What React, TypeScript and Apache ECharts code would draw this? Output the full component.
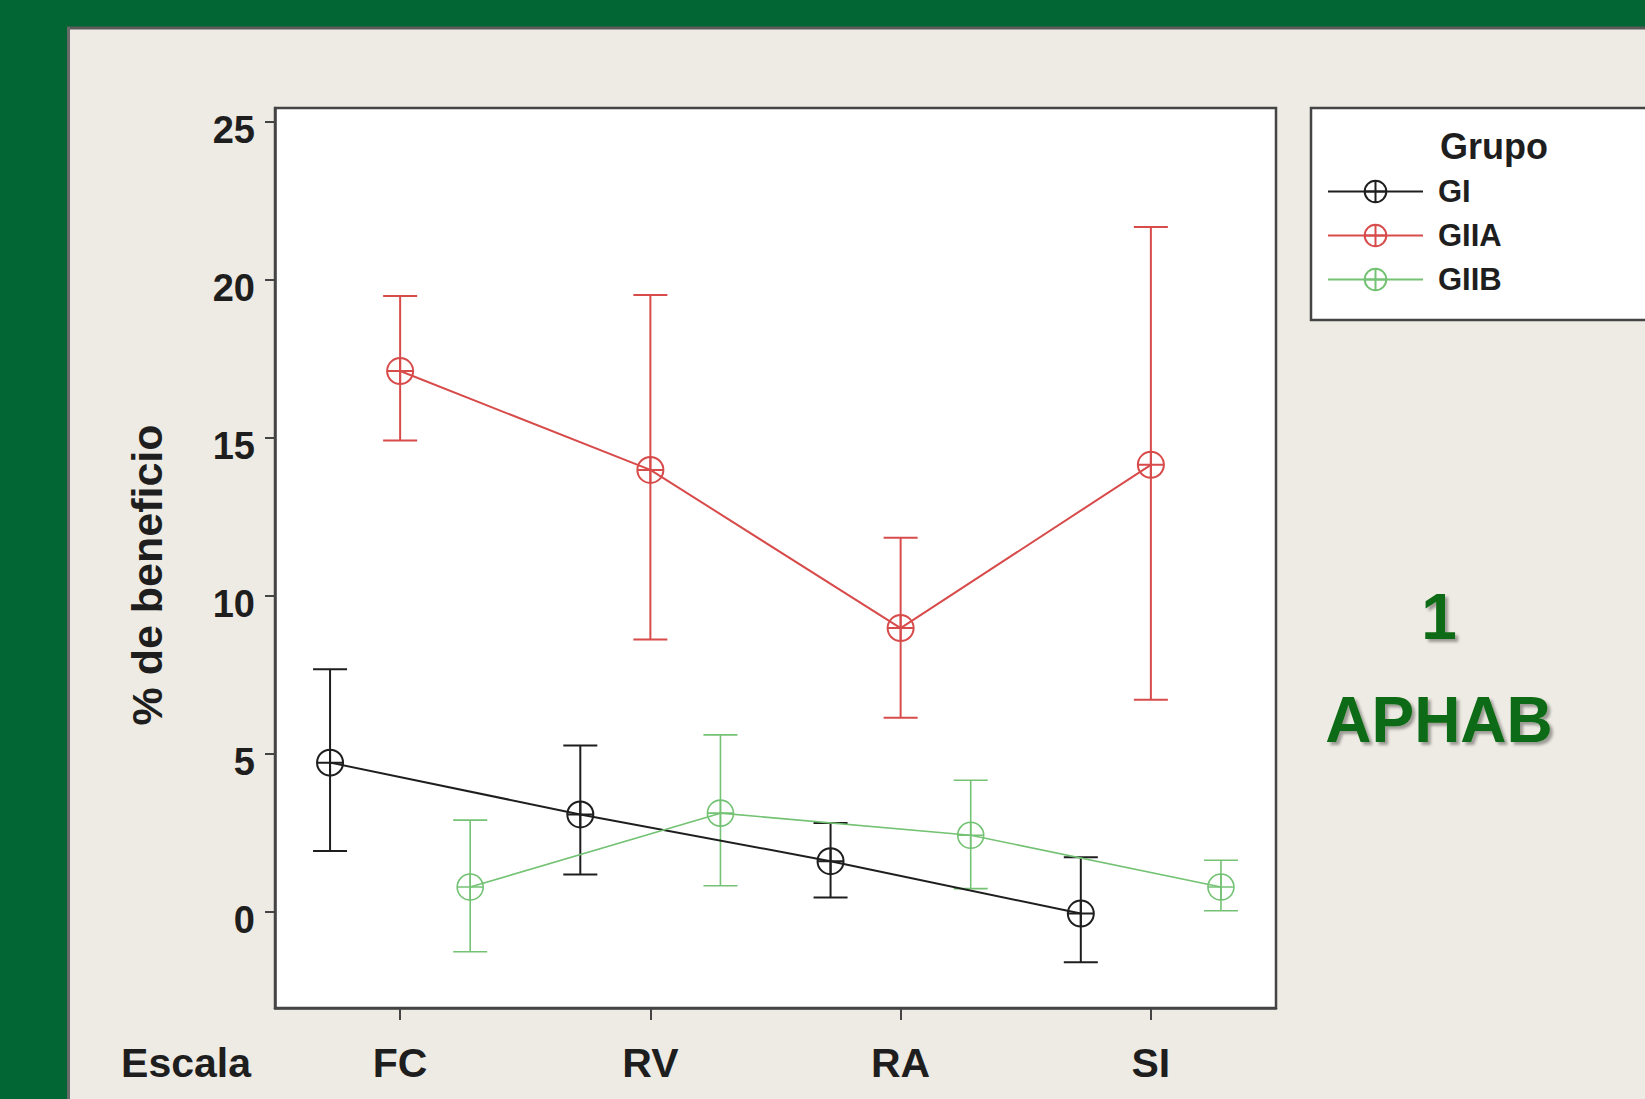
import React, { useEffect, useRef } from "react";
import * as echarts from "echarts";

const categories = ["FC", "RV", "RA", "SI"];
const groupNames = ["GI", "GIIA", "GIIB"];

const giMean = [4.72, 3.08, 1.6, -0.06];
const giLow = [1.92, 1.18, 0.45, -1.6];
const giHigh = [7.68, 5.26, 2.81, 1.72];

const giiaMean = [17.12, 13.99, 8.98, 14.15];
const giiaLow = [14.92, 8.62, 6.14, 6.71];
const giiaHigh = [19.5, 19.53, 11.84, 21.68];

const giibMean = [0.78, 3.12, 2.42, 0.78];
const giibLow = [-1.27, 0.82, 0.73, 0.03];
const giibHigh = [2.9, 5.6, 4.16, 1.63];

const yTicks = [0, 5, 10, 15, 20, 25];

const FONT = "'Liberation Sans', Arial, Helvetica, sans-serif";
const TEXT = "#1e1e1e";
const colors = ["#1e1e1e", "#d84b4b", "#74c274"];
const widths = [2, 2, 1.6];
const offsets = [-0.28, 0, 0.28];
const MARK = "path://M-10,0A10,10,0,1,0,10,0A10,10,0,1,0,-10,0ZM-10,0L10,0M0,-10L0,10";

export default function App() {
  const ref = useRef<HTMLDivElement>(null);
  useEffect(() => {
    if (!ref.current) return;
    const chart = echarts.init(ref.current, undefined, { renderer: "svg" });
    const groups = [
      { mean: giMean, low: giLow, high: giHigh },
      { mean: giiaMean, low: giiaLow, high: giiaHigh },
      { mean: giibMean, low: giibLow, high: giibHigh },
    ];
    const errSeries: any[] = groups.map((g, gi) => ({
      type: "custom",
      name: groupNames[gi] + "-err",
      data: categories.map((_, i) => [i + 1 + offsets[gi], g.low[i], g.high[i]]),
      encode: { x: 0, y: [1, 2] },
      silent: true,
      z: 2,
      renderItem: (params: any, api: any) => {
        const x = api.value(0);
        const lo = api.coord([x, api.value(1)]);
        const hi = api.coord([x, api.value(2)]);
        const hw = 17;
        const style = { stroke: colors[gi], lineWidth: widths[gi], fill: "none" };
        return {
          type: "group",
          children: [
            { type: "line", shape: { x1: lo[0], y1: lo[1], x2: hi[0], y2: hi[1] }, style },
            { type: "line", shape: { x1: hi[0] - hw, y1: hi[1], x2: hi[0] + hw, y2: hi[1] }, style },
            { type: "line", shape: { x1: lo[0] - hw, y1: lo[1], x2: lo[0] + hw, y2: lo[1] }, style },
          ],
        };
      },
    }));
    const lineSeries: any[] = groups.map((g, gi) => ({
      type: "line",
      name: groupNames[gi],
      data: categories.map((_, i) => [i + 1 + offsets[gi], g.mean[i]]),
      symbol: MARK,
      symbolSize: 26,
      z: 3,
      lineStyle: { color: colors[gi], width: widths[gi] },
      itemStyle: { color: "rgba(0,0,0,0)", borderColor: colors[gi], borderWidth: widths[gi] },
      emphasis: { disabled: true },
    }));

    const option: any = {
      animation: false,
      backgroundColor: "#eeebe4",
      textStyle: { fontFamily: FONT },
      grid: {
        left: 275,
        top: 108,
        right: 1645 - 1276,
        bottom: 1099 - 1008,
        show: true,
        backgroundColor: "#ffffff",
        borderColor: "#444",
        borderWidth: 2.5,
      },
      xAxis: {
        type: "value",
        min: 0.5,
        max: 4.5,
        splitLine: { show: false },
        axisLine: { show: true, onZero: false, lineStyle: { color: "#444", width: 2.5 } },
        axisTick: { show: true, customValues: [1, 2, 3, 4], length: 12, lineStyle: { color: "#444", width: 2 } },
        axisLabel: {
          customValues: [1, 2, 3, 4],
          formatter: (v: number) => categories[Math.round(v) - 1] ?? "",
          fontSize: 41,
          fontWeight: "bold",
          fontFamily: FONT,
          color: TEXT,
          margin: 55,
          verticalAlign: "middle",
        },
      },
      yAxis: {
        type: "value",
        min: -3.05,
        max: 25.45,
        splitLine: { show: false },
        axisLine: { show: true, onZero: false, lineStyle: { color: "#444", width: 2.5 } },
        axisTick: { show: true, customValues: yTicks, length: 10, lineStyle: { color: "#444", width: 2 } },
        axisLabel: {
          customValues: yTicks,
          fontSize: 38,
          fontWeight: "bold",
          fontFamily: FONT,
          color: TEXT,
          margin: 20,
          verticalAlign: "top",
          lineHeight: 16,
        },
      },
      legend: {
        data: groupNames,
        orient: "vertical",
        left: 1322,
        top: 171,
        itemWidth: 95,
        itemHeight: 27,
        itemGap: 13,
        selectedMode: false,
        textStyle: {
          fontSize: 31,
          fontWeight: "bold",
          fontFamily: FONT,
          color: TEXT,
          padding: [0, 0, 0, 10],
        },
      },
      graphic: [
        { type: "rect", z: 0, shape: { x: 0, y: 0, width: 1645, height: 27 }, style: { fill: "#026634" } },
        { type: "rect", z: 0, shape: { x: 0, y: 0, width: 67, height: 1099 }, style: { fill: "#026634" } },
        { type: "line", z: 0, shape: { x1: 67, y1: 28, x2: 1645, y2: 28 }, style: { stroke: "#5a5a5a", lineWidth: 3 } },
        { type: "line", z: 0, shape: { x1: 68.5, y1: 27, x2: 68.5, y2: 1099 }, style: { stroke: "#6a6a6a", lineWidth: 3 } },
        {
          type: "rect",
          z: 0,
          shape: { x: 1311, y: 108, width: 400, height: 212 },
          style: { fill: "#ffffff", stroke: "#444", lineWidth: 2.5 },
        },
        {
          type: "text",
          z: 5,
          x: 1440,
          y: 146,
          style: { text: "Grupo", fontSize: 36, fontWeight: "bold", fontFamily: FONT, fill: TEXT, align: "left", verticalAlign: "middle" },
        },
        {
          type: "text",
          z: 5,
          x: 186,
          y: 1063,
          style: { text: "Escala", fontSize: 41, fontWeight: "bold", fontFamily: FONT, fill: TEXT, align: "center", verticalAlign: "middle" },
        },
        {
          type: "text",
          z: 5,
          x: 147,
          y: 575,
          rotation: Math.PI / 2,
          style: { text: "% de beneficio", fontSize: 43, fontWeight: "bold", fontFamily: FONT, fill: TEXT, align: "center", verticalAlign: "middle" },
        },
        {
          type: "text",
          z: 5,
          x: 1439,
          y: 617,
          style: {
            text: "1", fontSize: 64, fontWeight: "bold", fontFamily: FONT, fill: "#0e6b12", align: "center", verticalAlign: "middle",
            textShadowColor: "rgba(0,0,0,0.35)", textShadowOffsetX: 3, textShadowOffsetY: 3, textShadowBlur: 3,
          },
        },
        {
          type: "text",
          z: 5,
          x: 1439,
          y: 720,
          style: {
            text: "APHAB", fontSize: 64, fontWeight: "bold", fontFamily: FONT, fill: "#0e6b12", align: "center", verticalAlign: "middle",
            textShadowColor: "rgba(0,0,0,0.35)", textShadowOffsetX: 3, textShadowOffsetY: 3, textShadowBlur: 3,
          },
        },
      ],
      series: [...errSeries, ...lineSeries],
    };
    chart.setOption(option);
    return () => chart.dispose();
  }, []);
  return <div ref={ref} style={{ position: "fixed", left: 0, top: 0, width: 1645, height: 1099 }} />;
}
